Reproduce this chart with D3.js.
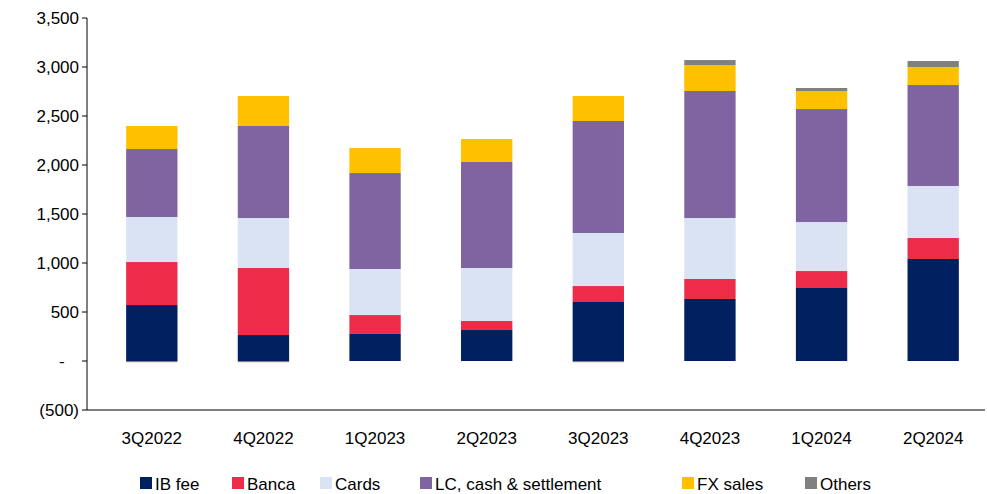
<!DOCTYPE html>
<html><head><meta charset="utf-8">
<script src="https://cdn.jsdelivr.net/npm/d3@7"></script>
<style>body{margin:0;background:#fff}</style>
</head><body>
<script>
//Data
var quarters = ["3Q2022","4Q2022","1Q2023","2Q2023","3Q2023","4Q2023","1Q2024","2Q2024"];
var seriesNames = ["IB fee","Banca","Cards","LC, cash & settlement","FX sales","Others"];
var colors = ["#002060","#ED2C4A","#DAE3F3","#8064A2","#FFC000","#808080"];
var ibFee = [571, 265, 276, 316, 602, 633, 745, 1041];
var banca = [439, 684, 193, 92, 163, 204, 173, 214];
var cards = [459, 510, 470, 541, 541, 622, 500, 531];
var lcCash = [694, 939, 979, 1082, 1143, 1296, 1153, 1030];
var fxSales = [235, 306, 255, 234, 255, 265, 184, 184];
var others = [-12, -12, 0, 0, -12, 51, 31, 61];
var yTicks = [-500, 0, 500, 1000, 1500, 2000, 2500, 3000, 3500];

var w = 987, h = 494;
var margin = {top: 18, right: 0, bottom: 84, left: 87};

var svg = d3.select("body").append("svg").attr("width", w).attr("height", h);

var x = d3.scaleBand().domain(quarters).range([margin.left + 9, w - margin.right + 2]).paddingInner(0.54).paddingOuter(0.27);
var y = d3.scaleLinear().domain([-500, 3500]).range([410, margin.top]);

var allSeries = [ibFee, banca, cards, lcCash, fxSales, others];

//Stack positives up from 0, negatives down from 0
quarters.forEach(function (q, i) {
  var pos = 0, neg = 0;
  allSeries.forEach(function (s, k) {
    var v = s[i], y0, y1;
    if (v >= 0) { y0 = pos; y1 = pos + v; pos = y1; }
    else { y0 = neg + v; y1 = neg; neg = y0; }
    svg.append("rect")
      .attr("x", x(q))
      .attr("width", x.bandwidth())
      .attr("y", y(y1))
      .attr("height", Math.max(0, y(y0) - y(y1)))
      .attr("fill", colors[k]);
  });
});

//Axes
svg.append("line").attr("x1", margin.left).attr("x2", margin.left)
  .attr("y1", y(3500)).attr("y2", y(-500)).attr("stroke", "#000");
svg.append("line").attr("x1", margin.left).attr("x2", w - 2)
  .attr("y1", y(-500)).attr("y2", y(-500)).attr("stroke", "#000");

var fmt = function (v) {
  if (v === 0) return "-";
  if (v < 0) return "(" + d3.format(",")(-v) + ")";
  return d3.format(",")(v);
};
yTicks.forEach(function (t) {
  svg.append("line").attr("x1", margin.left - 5).attr("x2", margin.left)
    .attr("y1", y(t)).attr("y2", y(t)).attr("stroke", "#000");
  svg.append("text").attr("x", t === 0 ? margin.left - 28 : margin.left - 8).attr("y", y(t) + 6)
    .attr("text-anchor", t === 0 ? "start" : "end")
    .attr("font-family", "Liberation Sans, Arial, sans-serif").attr("font-size", "17px")
    .text(fmt(t));
});

quarters.forEach(function (q) {
  svg.append("text").attr("x", x(q) + x.bandwidth() / 2).attr("y", 444)
    .attr("text-anchor", "middle")
    .attr("font-family", "Liberation Sans, Arial, sans-serif").attr("font-size", "17px")
    .text(q);
});

//Legend
var lx = [140, 232, 320, 420, 682, 805];
seriesNames.forEach(function (n, k) {
  svg.append("rect").attr("x", lx[k]).attr("y", 477).attr("width", 12).attr("height", 12).attr("fill", colors[k]);
  svg.append("text").attr("x", lx[k] + 15).attr("y", 490)
    .attr("font-family", "Liberation Sans, Arial, sans-serif").attr("font-size", "17px")
    .text(n);
});
</script>
</body></html>
